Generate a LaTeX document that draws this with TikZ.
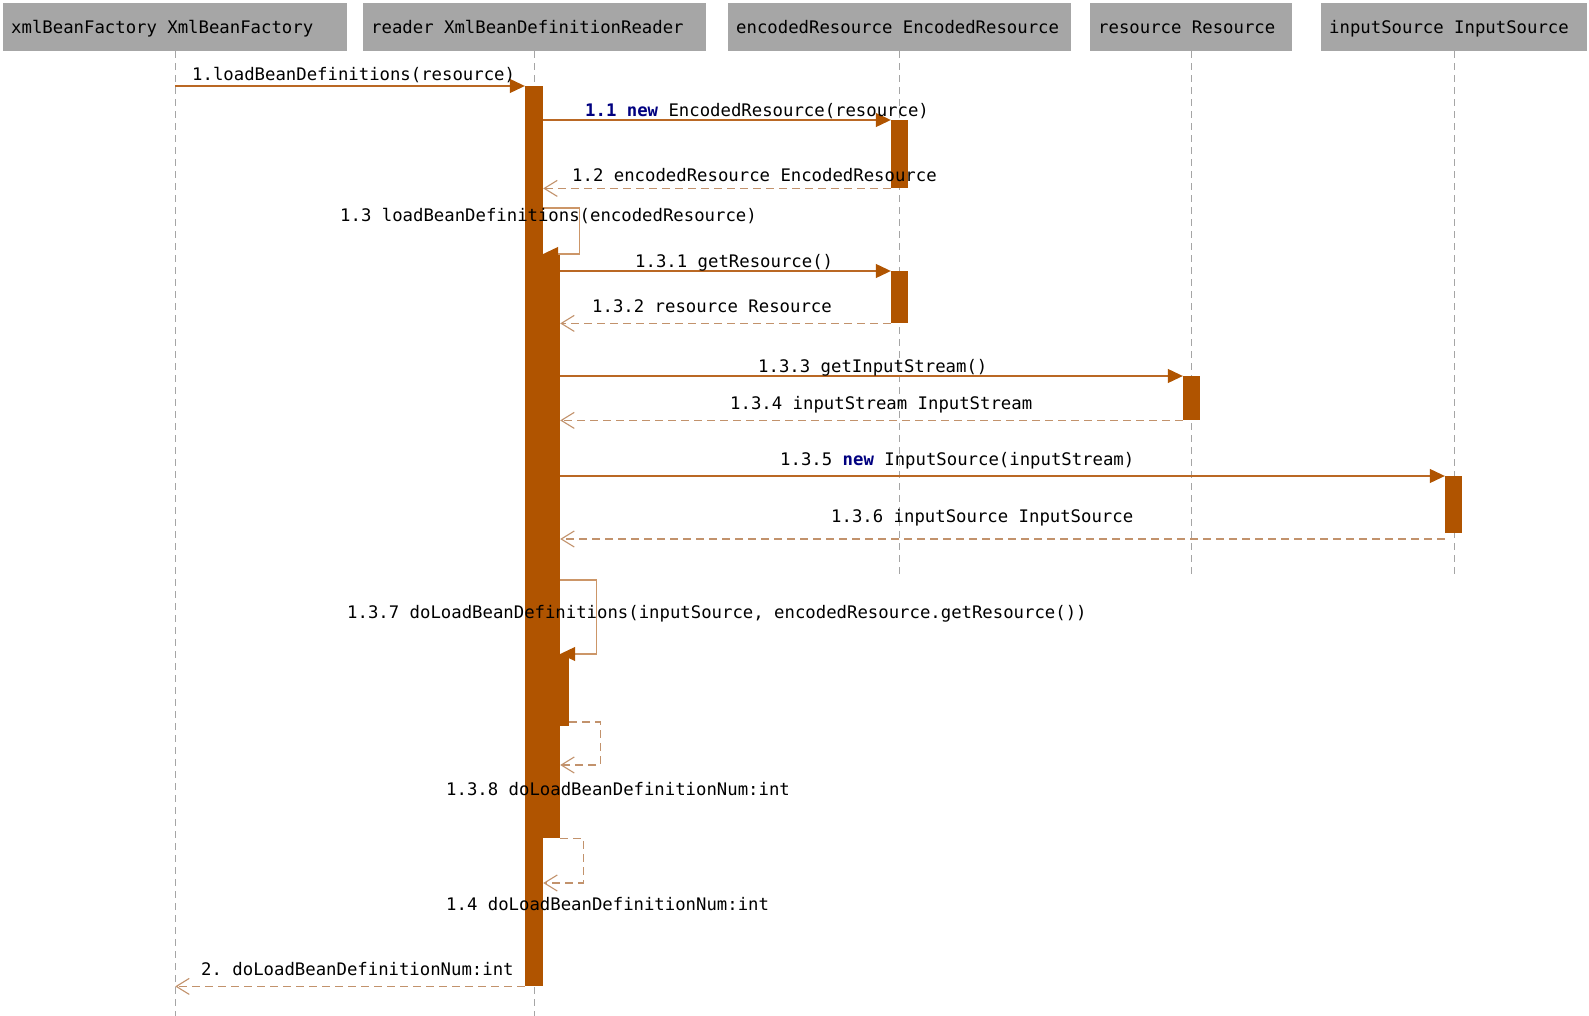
\documentclass[tikz,border=0pt]{standalone}
\usepackage{fontspec}
\setmonofont{DejaVu Sans Mono}
\usepackage{xcolor}
\usepackage{tikz}
\usetikzlibrary{arrows.meta}

\definecolor{headgray}{RGB}{166,166,166}
\definecolor{lifegray}{RGB}{165,165,165}
\definecolor{barcol}{RGB}{176,84,0}
\definecolor{callcol}{RGB}{186,104,36}
\definecolor{selfcol}{RGB}{204,150,104}
\definecolor{retcol}{RGB}{194,146,108}
\definecolor{kwnavy}{RGB}{0,0,128}

\newcommand{\seqfont}{\ttfamily\fontsize{17.3}{20}\selectfont}
\newcommand{\headtext}[2]{\makebox[#1][l]{#2}}

\begin{document}
\begin{tikzpicture}[
  x=1pt, y=-1pt,
  font=\seqfont,
  head/.style={fill=headgray, anchor=north west, minimum height=48pt, inner xsep=8pt, inner ysep=0pt, text height=16pt, text depth=3pt},
  life/.style={draw=lifegray, line width=1pt, dash pattern=on 7pt off 5pt},
  bar/.style={fill=barcol, inner sep=0pt, anchor=north},
  call/.style={draw=callcol, line width=1.1pt, -{Triangle[length=15pt,width=14pt,color=barcol]}},
  selfcall/.style={call, draw=selfcol},
  ret/.style={draw=retcol, line width=1.1pt, dash pattern=on 8pt off 5pt, -{Straight Barb[length=13pt,width=16pt]}},
  msg/.style={anchor=west, inner sep=0pt, text height=12pt, text depth=4pt, yshift=-3pt}
]
\useasboundingbox (0,0) rectangle (1589,1016);
\fill[white] (0,0) rectangle (1589,1016);

% lifeline heads
\node[head] (xbf) at (3,3) {\headtext{328pt}{xmlBeanFactory XmlBeanFactory}};
\node[head] (rdr) at (363,3) {\headtext{327pt}{reader XmlBeanDefinitionReader}};
\node[head] (enc) at (728,3) {\headtext{327pt}{encodedResource EncodedResource}};
\node[head] (res) at (1090,3) {\headtext{186pt}{resource Resource}};
\node[head] (ins) at (1321,3) {\headtext{250pt}{inputSource InputSource}};

\draw[life] (xbf.south) -- (xbf.south |- 0,1016);
\draw[life] (rdr.south) -- (rdr.south |- 0,1016);
\draw[life] (enc.south) -- (enc.south |- 0,575);
\draw[life] (res.south) -- (res.south |- 0,575);
\draw[life] (ins.south) -- (ins.south |- 0,575);

% activations
\node[bar, minimum width=18pt, minimum height=900pt] (a2) at (534,86) {};
\node[bar, minimum width=17pt, minimum height=584pt] (a2b) at (551.5,254) {};
\node[bar, minimum width=19pt, minimum height=72pt] (a2c) at (559.5,654) {};
\node[bar, minimum width=17pt, minimum height=68pt] (a3a) at (899.5,120) {};
\node[bar, minimum width=17pt, minimum height=52pt] (a3b) at (899.5,271) {};
\node[bar, minimum width=17pt, minimum height=44pt] (a4) at (1191.5,376) {};
\node[bar, minimum width=17pt, minimum height=57pt] (a5) at (1453.5,476) {};

% messages
\draw[call] (xbf.south |- a2.north) -- (a2.north west);
\draw[call] (a2.east |- a3a.north) -- (a3a.north west);
\draw[ret] (a3a.south west) -- (a2.east |- a3a.south);
\draw[selfcall] (a2.east |- 0,208) -- ++(36,0) |- (a2.east |- a2b.north);
\draw[call] (a2b.east |- a3b.north) -- (a3b.north west);
\draw[ret] (a3b.south west) -- (a2b.east |- a3b.south);
\draw[call] (a2b.east |- a4.north) -- (a4.north west);
\draw[ret] (a4.south west) -- (a2b.east |- a4.south);
\draw[call] (a2b.east |- a5.north) -- (a5.north west);
\draw[ret] (a5.south west |- 0,539) -- (a2b.east |- 0,539);
\draw[selfcall] (a2b.east |- 0,580) -- ++(36,0) |- (a2b.east |- a2c.north);
\draw[ret] (a2c.east |- 0,722) -- ++(31,0) |- (a2b.east |- 0,765);
\draw[ret] (a2b.south east) -- ++(23,0) |- (a2.east |- 0,883);
\draw[ret] (a2.south west) -- (xbf.south |- a2.south);

% labels
\node[msg] (m1) at (192,74) {1.loadBeanDefinitions(resource)};
\node[msg] (m11) at (585,110) {{\bfseries\color{kwnavy}1.1 new} EncodedResource(resource)};
\node[msg] (m12) at (572,175) {1.2 encodedResource EncodedResource};
\node[msg] (m13) at (340,215) {1.3 loadBeanDefinitions(encodedResource)};
\node[msg] (m131) at (635,260) {1.3.1 getResource()};
\node[msg] (m132) at (592,305) {1.3.2 resource Resource};
\node[msg] (m133) at (758,365) {1.3.3 getInputStream()};
\node[msg] (m134) at (730,402) {1.3.4 inputStream InputStream};
\node[msg] (m135) at (780,458) {1.3.5 {\bfseries\color{kwnavy}new} InputSource(inputStream)};
\node[msg] (m136) at (831,515) {1.3.6 inputSource InputSource};
\node[msg] (m137) at (347,611) {1.3.7 doLoadBeanDefinitions(inputSource, encodedResource.getResource())};
\node[msg] (m138) at (446,788) {1.3.8 doLoadBeanDefinitionNum:int};
\node[msg] (m14) at (446,903) {1.4 doLoadBeanDefinitionNum:int};
\node[msg] (m2) at (201,968) {2. doLoadBeanDefinitionNum:int};
\end{tikzpicture}
\end{document}
